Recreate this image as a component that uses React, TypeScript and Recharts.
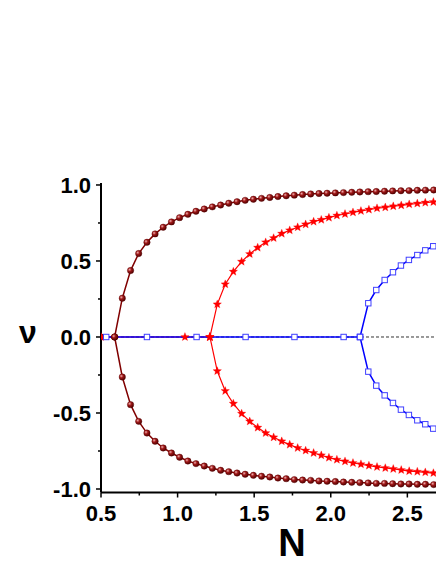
import { LineChart, Line, XAxis, YAxis, ReferenceLine } from 'recharts';

// maroon branch (spheres)
const maroonN = [0.589, 0.639, 0.693, 0.746, 0.8, 0.853, 0.906, 0.96, 1.013, 1.067, 1.12, 1.174, 1.227, 1.281, 1.334, 1.388, 1.441, 1.495, 1.548, 1.602, 1.655, 1.709, 1.762, 1.816, 1.869, 1.923, 1.976, 2.03, 2.083, 2.137, 2.19, 2.244, 2.297, 2.351, 2.404, 2.458, 2.511, 2.565, 2.618, 2.672];
const maroonUp = [0, 0.255, 0.437, 0.549, 0.623, 0.678, 0.722, 0.757, 0.785, 0.807, 0.827, 0.842, 0.856, 0.868, 0.88, 0.89, 0.899, 0.906, 0.912, 0.918, 0.924, 0.929, 0.933, 0.937, 0.941, 0.944, 0.946, 0.948, 0.95, 0.952, 0.954, 0.956, 0.957, 0.959, 0.961, 0.962, 0.963, 0.965, 0.966, 0.967];
const maroonDown = [0, -0.263, -0.445, -0.555, -0.632, -0.686, -0.73, -0.763, -0.791, -0.816, -0.833, -0.849, -0.864, -0.877, -0.886, -0.895, -0.903, -0.91, -0.916, -0.921, -0.928, -0.932, -0.938, -0.941, -0.943, -0.947, -0.949, -0.951, -0.954, -0.956, -0.958, -0.96, -0.963, -0.963, -0.965, -0.967, -0.967, -0.969, -0.969, -0.971];
const maroonZeroN = [0.5, 0.589];

// red branch (stars)
const redN = [1.211, 1.259, 1.311, 1.364, 1.418, 1.471, 1.523, 1.575, 1.627, 1.68, 1.732, 1.784, 1.836, 1.888, 1.938, 1.988, 2.04, 2.093, 2.145, 2.197, 2.249, 2.302, 2.356, 2.408, 2.46, 2.512, 2.565, 2.617, 2.67];
const redUp = [0, 0.215, 0.347, 0.43, 0.496, 0.546, 0.588, 0.623, 0.651, 0.68, 0.702, 0.722, 0.741, 0.759, 0.771, 0.785, 0.799, 0.809, 0.82, 0.829, 0.838, 0.847, 0.853, 0.86, 0.866, 0.873, 0.878, 0.884, 0.888];
const redDown = [0, -0.224, -0.355, -0.438, -0.504, -0.555, -0.596, -0.632, -0.66, -0.686, -0.708, -0.73, -0.747, -0.763, -0.778, -0.794, -0.807, -0.818, -0.829, -0.837, -0.846, -0.855, -0.862, -0.868, -0.875, -0.882, -0.886, -0.89, -0.895];
const redZeroN = [0.5, 1.048, 1.211];

// blue branch (open squares)
const blueN = [2.191, 2.245, 2.297, 2.352, 2.406, 2.458, 2.51, 2.565, 2.617, 2.669];
const blueUp = [0, 0.222, 0.309, 0.375, 0.426, 0.47, 0.507, 0.539, 0.57, 0.597];
const blueDown = [0, -0.228, -0.32, -0.384, -0.434, -0.478, -0.513, -0.548, -0.574, -0.603];
const blueZeroN = [0.5, 0.534, 0.8, 1.124, 1.444, 1.763, 2.084, 2.191];

const xTicks = [0.5, 0.75, 1, 1.25, 1.5, 1.75, 2, 2.25, 2.5];
const yTicks = [-1, -0.75, -0.5, -0.25, 0, 0.25, 0.5, 0.75, 1];

const FONT = '"Liberation Sans", Arial, sans-serif';

const zip = (xs: number[], ys: number[]) => xs.map((x, i) => ({ x, y: ys[i] }));
const zeros = (xs: number[]) => xs.map((x) => ({ x, y: 0 }));

const isMajor = (v: number) => Math.abs(v * 2 - Math.round(v * 2)) < 1e-6;

const YTick = (props: any) => {
  const { x, y, payload } = props;
  const major = isMajor(payload.value);
  return (
    <g>
      <line x1={x} x2={x - (major ? 5 : 3)} y1={y} y2={y} stroke="#000" strokeWidth={1.5} />
      {major && (
        <text x={x - 10} y={y + 8} textAnchor="end" fontFamily={FONT} fontWeight="bold" fontSize={22} fill="#000">
          {payload.value.toFixed(1)}
        </text>
      )}
    </g>
  );
};

const XTick = (props: any) => {
  const { x, y, payload } = props;
  const major = isMajor(payload.value);
  return (
    <g>
      <line x1={x} x2={x} y1={y} y2={y + (major ? 5 : 3)} stroke="#000" strokeWidth={1.5} />
      {major && (
        <text x={x} y={y + 28} textAnchor="middle" fontFamily={FONT} fontWeight="bold" fontSize={22} fill="#000">
          {payload.value.toFixed(1)}
        </text>
      )}
    </g>
  );
};

const Sphere = (props: any) => {
  const { cx, cy, index } = props;
  return <circle key={`s${index}`} cx={cx} cy={cy} r={3.2} fill="url(#sphere)" stroke="#5a0000" strokeWidth={0.4} />;
};

const Star = (props: any) => {
  const { cx, cy, index } = props;
  const pts: string[] = [];
  for (let k = 0; k < 10; k++) {
    const r = k % 2 === 0 ? 4.4 : 1.9;
    const a = -Math.PI / 2 + (k * Math.PI) / 5;
    pts.push(`${cx + r * Math.cos(a)},${cy + r * Math.sin(a)}`);
  }
  return <polygon key={`t${index}`} points={pts.join(' ')} fill="#ff0000" stroke="#ff0000" strokeWidth={0.3} />;
};

const Square = (props: any) => {
  const { cx, cy, index } = props;
  if (props.payload && props.payload.x === 0.5) return <g key={`q${index}`} />;
  return <rect key={`q${index}`} x={cx - 2.7} y={cy - 2.7} width={5.4} height={5.4} fill="#fff" stroke="#4040ff" strokeWidth={1} />;
};

export default function App() {
  return (
    <div style={{ position: 'relative', width: 436, height: 564 }}>
      <style>{'body{margin:0;overflow:hidden}'}</style>
      <LineChart width={436} height={564} margin={{ top: 183, right: 0, bottom: 31.5, left: 41 }}>
        <defs>
          <radialGradient id="sphere" cx="35%" cy="35%" r="70%">
            <stop offset="0%" stopColor="#f0b0b0" />
            <stop offset="40%" stopColor="#a01818" />
            <stop offset="100%" stopColor="#4a0000" />
          </radialGradient>
        </defs>
        <XAxis
          type="number"
          dataKey="x"
          domain={[0.5, 2.687]}
          ticks={xTicks}
          interval={0}
          height={40}
          tickSize={0}
          tickMargin={0}
          tickLine={false}
          tick={<XTick />}
          axisLine={{ stroke: '#000', strokeWidth: 2 }}
          allowDataOverflow
        />
        <YAxis
          type="number"
          dataKey="y"
          domain={[-1.023, 1.013]}
          ticks={yTicks}
          interval={0}
          width={60}
          tickSize={0}
          tickMargin={0}
          tickLine={false}
          tick={<YTick />}
          axisLine={{ stroke: '#000', strokeWidth: 2 }}
          allowDataOverflow
        />
        <ReferenceLine y={0} stroke="#000" strokeWidth={0.8} strokeDasharray="3 2" />

        <Line data={zeros(maroonZeroN)} dataKey="y" stroke="#800000" strokeWidth={1.5} dot={Sphere} isAnimationActive={false} />
        <Line data={zip(maroonN, maroonUp)} dataKey="y" stroke="#800000" strokeWidth={1.5} dot={Sphere} isAnimationActive={false} />
        <Line data={zip(maroonN, maroonDown)} dataKey="y" stroke="#800000" strokeWidth={1.5} dot={Sphere} isAnimationActive={false} />

        <Line data={zeros(redZeroN)} dataKey="y" stroke="#ff0000" strokeWidth={1.2} dot={Star} isAnimationActive={false} />
        <Line data={zip(redN, redUp)} dataKey="y" stroke="#ff0000" strokeWidth={1.2} dot={Star} isAnimationActive={false} />
        <Line data={zip(redN, redDown)} dataKey="y" stroke="#ff0000" strokeWidth={1.2} dot={Star} isAnimationActive={false} />

        <Line data={zeros(blueZeroN)} dataKey="y" stroke="#0000ff" strokeWidth={1.5} dot={Square} isAnimationActive={false} />
        <Line data={zip(blueN, blueUp)} dataKey="y" stroke="#0000ff" strokeWidth={1.5} dot={Square} isAnimationActive={false} />
        <Line data={zip(blueN, blueDown)} dataKey="y" stroke="#0000ff" strokeWidth={1.5} dot={Square} isAnimationActive={false} />
      </LineChart>
      <svg width={436} height={564} style={{ position: 'absolute', left: 0, top: 0, pointerEvents: 'none' }}>
        <text x={28} y={343} textAnchor="middle" fontFamily={FONT} fontWeight="bold" fontSize={32} fill="#000">
          ν
        </text>
        <text x={292} y={556} textAnchor="middle" fontFamily={FONT} fontWeight="bold" fontSize={38} fill="#000">
          N
        </text>
      </svg>
    </div>
  );
}
